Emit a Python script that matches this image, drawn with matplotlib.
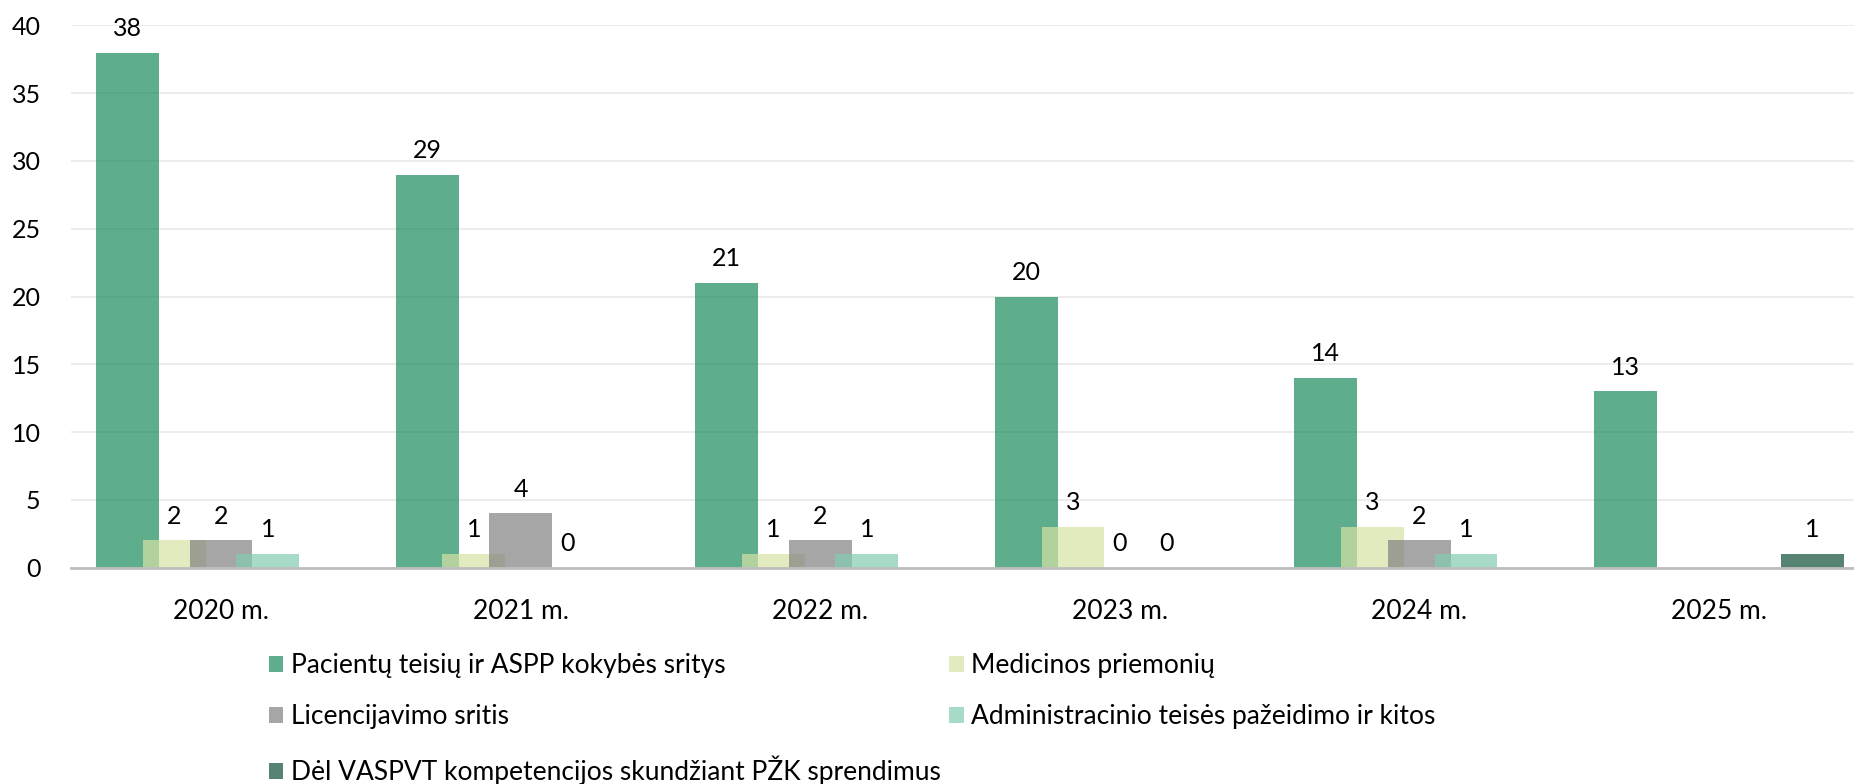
import matplotlib.pyplot as plt
import numpy as np

plt.rcParams['font.family'] = ['Lato', 'DejaVu Sans']

years = ['2020 m.', '2021 m.', '2022 m.', '2023 m.', '2024 m.', '2025 m.']
series_names = ['Pacientų teisių ir ASPP kokybės sritys', 'Medicinos priemonių',
                'Licencijavimo sritis', 'Administracinio teisės pažeidimo ir kitos',
                'Dėl VASPVT kompetencijos skundžiant PŽK sprendimus']
pacientu = [38, 29, 21, 20, 14, 13]
medicinos = [2, 1, 1, 3, 3, np.nan]
licencijavimo = [2, 4, 2, 0, 2, np.nan]
administracinio = [1, 0, 1, 0, 1, np.nan]
del_vaspvt = [np.nan, np.nan, np.nan, np.nan, np.nan, 1]
colors = ['#1A8B5C', '#D6E2A5', '#808080', '#83CDB0', '#0F4E37']

all_series = [pacientu, medicinos, licencijavimo, administracinio, del_vaspvt]

fig = plt.figure(figsize=(18.54, 7.84), dpi=100)
ax = fig.add_axes([0.0384, 0.2761, 0.9616, 0.6914])

x = np.arange(len(years))
width = 0.21
step = 0.156
handles = []
for k, (vals, col) in enumerate(zip(all_series, colors)):
    vals = np.array(vals, dtype=float)
    pos = x + (k - 2) * step
    b = ax.bar(pos, np.nan_to_num(vals), width, color=col, alpha=0.7, zorder=3,
               label=series_names[k])
    handles.append(b)
    for p, v in zip(pos, vals):
        if np.isnan(v):
            continue
        ax.annotate(f'{int(v)}', (p, v), xytext=(0, 12), textcoords='offset points',
                    ha='center', va='baseline', fontsize=18, color='black',
                    annotation_clip=False, zorder=5)

ax.set_xlim(-0.5, 5.451)
ax.set_ylim(0, 40)
ax.set_yticks(range(0, 41, 5))
ax.set_xticks(x)
ax.set_xticklabels(years)
ax.tick_params(axis='both', length=0, labelsize=18, colors='black')
ax.tick_params(axis='x', labelsize=19, pad=23)
ax.tick_params(axis='y', pad=22)
ax.grid(axis='y', color='#EBEBEB', linewidth=1.3, zorder=0)
for s in ['top', 'right', 'left']:
    ax.spines[s].set_visible(False)
ax.spines['bottom'].set_color('#BFBFBF')
ax.spines['bottom'].set_linewidth(2)
ax.spines['bottom'].set_zorder(4)

# row-wise order like the original: matplotlib fills legend columns first
order = [0, 2, 4, 1, 3]
leg = fig.legend([handles[i] for i in order], [series_names[i] for i in order],
                 ncol=2, loc='upper left', bbox_to_anchor=(0.145, 0.167),
                 frameon=False, fontsize=19, handlelength=0.55, handleheight=0.55,
                 handletextpad=0.3, labelspacing=1.0, columnspacing=0.3,
                 borderaxespad=0, borderpad=0)

fig.savefig('out.png', dpi=100)
